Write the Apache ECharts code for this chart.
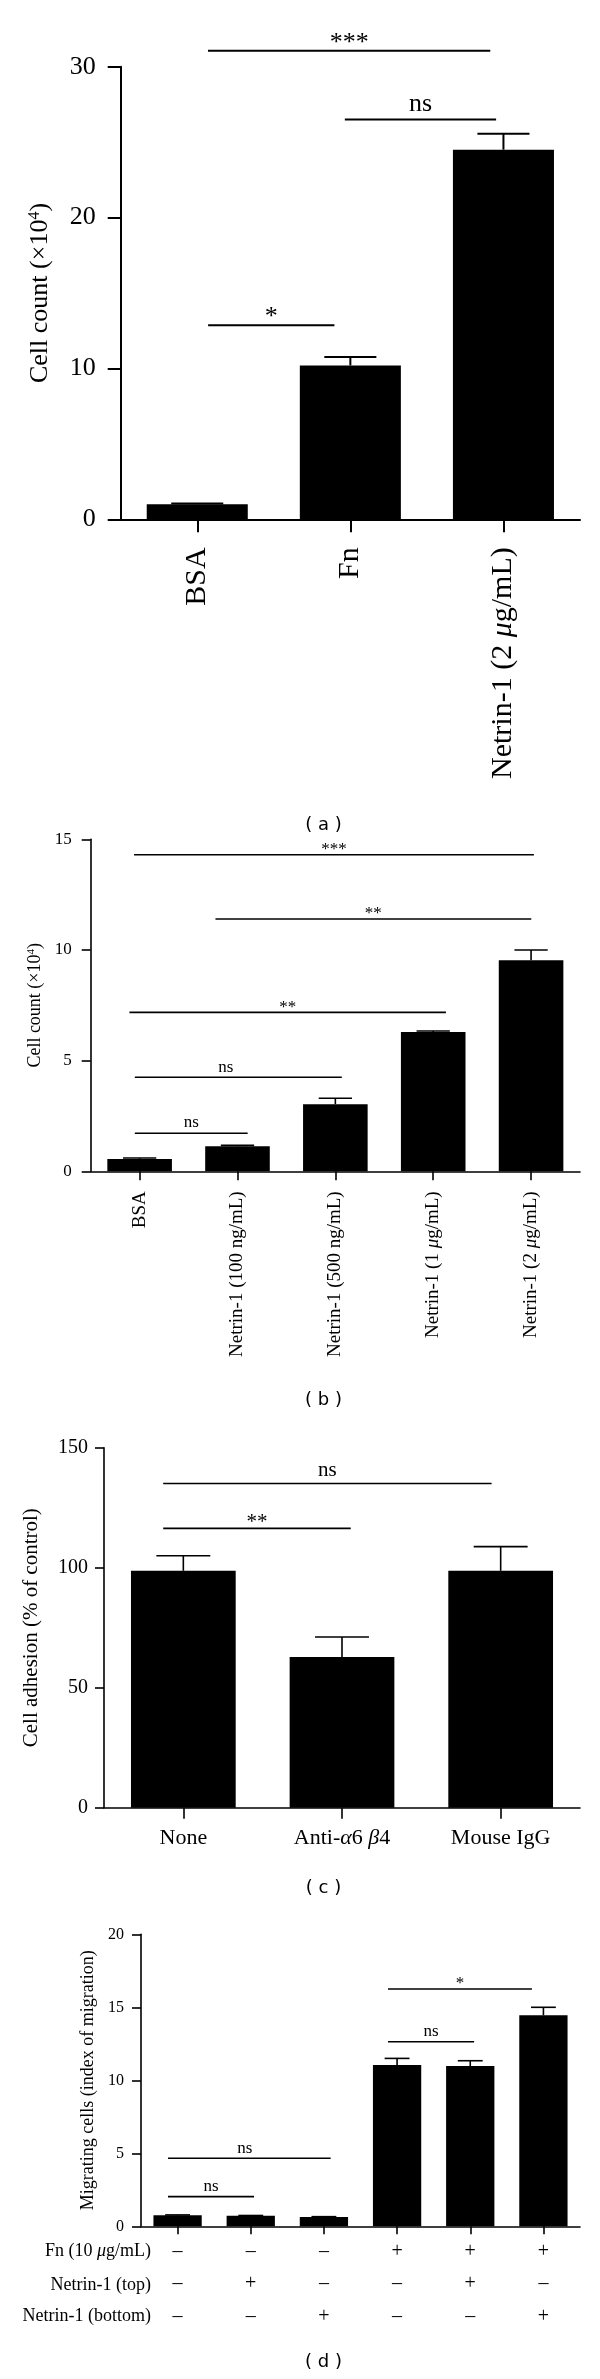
<!DOCTYPE html>
<html><head><meta charset="utf-8">
<script src="https://cdn.jsdelivr.net/npm/echarts@6/dist/echarts.min.js"></script>
<style>html,body{margin:0;padding:0;background:#fff}#c{width:600px;height:2379px}</style>
</head><body><div id="c"></div>
<script>
// ---------- Panel (a) ----------
const catsA = ['BSA', 'Fn', 'Netrin-1 (2 μg/mL)'];
const valsA = [1.0, 10.2, 24.5];
const errA = [0.05, 0.55, 1.05];
const ticksA = [0, 10, 20, 30];
// [from, to (category units), y, label]
const sigA = [[0.07, 1.914, 31.05, '***'], [0.964, 1.952, 26.5, 'ns'], [0.071, 0.896, 12.87, '*']];

// ---------- Panel (b) ----------
const catsB = ['BSA', 'Netrin-1 (100 ng/mL)', 'Netrin-1 (500 ng/mL)', 'Netrin-1 (1 μg/mL)', 'Netrin-1 (2 μg/mL)'];
const valsB = [0.56, 1.13, 3.03, 6.29, 9.54];
const errB = [0.04, 0.04, 0.27, 0.05, 0.46];
const ticksB = [0, 5, 10, 15];
const sigB = [[-0.057, 4.029, 14.3, '***'], [0.775, 4.002, 11.4, '**'], [-0.104, 3.13, 7.18, '**'],
              [-0.049, 2.066, 4.25, 'ns', 0.88], [-0.049, 1.104, 1.72, 'ns']];

// ---------- Panel (c) ----------
const catsC = ['None', 'Anti-α6 β4', 'Mouse IgG'];
const valsC = [98.7, 62.8, 98.7];
const errC = [6.3, 8.3, 10.1];
const ticksC = [0, 50, 100, 150];
const sigC = [[-0.127, 1.943, 135.1, 'ns'], [-0.127, 1.055, 116.4, '**']];

// ---------- Panel (d) ----------
const rowNamesD = ['Fn (10 μg/mL)', 'Netrin-1 (top)', 'Netrin-1 (bottom)'];
const fnD = ['–', '–', '–', '+', '+', '+'];
const topD = ['–', '+', '–', '–', '+', '–'];
const bottomD = ['–', '–', '+', '–', '–', '+'];
const valsD = [0.75, 0.72, 0.64, 11.05, 10.98, 14.45];
const errD = [0.03, 0.02, 0.02, 0.45, 0.36, 0.55];
const ticksD = [0, 5, 10, 15, 20];
const sigD = [[2.876, 4.843, 16.25, '*'], [2.876, 4.053, 12.64, 'ns'], [-0.131, 2.092, 4.66, 'ns', 0.92], [-0.131, 1.045, 2.03, 'ns']];

const SERIF = 'Liberation Serif';
const SANS = 'DejaVu Sans';

const greek = s => s.replace(/([μαβ])/g, '{i|$1}');

const panels = [
  { cats: catsA, vals: valsA, errs: errA, ticks: ticksA, sig: sigA,
    grid: { left: 120.7, top: 66.7, width: 459.3, height: 452.6 },
    lw: 2, tickLen: 13, tickFs: 26, yMargin: 25, sigFs: 26,
    yName: 'Cell count (×10{sup|4})', yNameFs: 26, yNameGap: 68,
    xLabel: { rotate: 90, fontSize: 30, margin: 28 }, xTickLen: 13 },
  { cats: catsB, vals: valsB, errs: errB, ticks: ticksB, sig: sigB,
    grid: { left: 90.7, top: 839.3, width: 489.3, height: 332 },
    lw: 1.6, tickLen: 9, tickFs: 17, yMargin: 19, sigFs: 17,
    yName: 'Cell count (×10{sup|4})', yNameFs: 18, yNameGap: 46,
    xLabel: { rotate: 90, fontSize: 19, margin: 20 }, xTickLen: 9 },
  { cats: catsC, vals: valsC, errs: errC, ticks: ticksC, sig: sigC,
    grid: { left: 104, top: 1447.7, width: 476, height: 360 },
    lw: 1.6, tickLen: 9, tickFs: 20, yMargin: 16, sigFs: 21,
    yName: 'Cell adhesion (% of control)', yNameFs: 21, yNameGap: 62,
    xLabel: { rotate: 0, fontSize: 22, margin: 20 }, xTickLen: 11 },
  { cats: fnD.map((_, i) => 'g' + i), vals: valsD, errs: errD, ticks: ticksD, sig: sigD,
    grid: { left: 141, top: 1934.3, width: 439, height: 292 },
    lw: 1.6, tickLen: 9, tickFs: 16, yMargin: 17, sigFs: 17,
    yName: 'Migrating cells (index of migration)', yNameFs: 18, yNameGap: 42,
    xLabel: { rotate: 0, fontSize: 20, margin: 9, lineHeight: 32.5,
              formatter: (v, i) => fnD[i] + '\n' + topD[i] + '\n' + bottomD[i] }, xTickLen: 8 }
];

const grids = [], xAxes = [], yAxes = [], series = [];
panels.forEach((p, k) => {
  grids.push(Object.assign({ containLabel: false }, p.grid));
  const axisLine = { show: true, onZero: false, lineStyle: { color: '#000', width: p.lw } };
  xAxes.push({
    type: 'category', gridIndex: k, data: p.cats, boundaryGap: true,
    axisLine: axisLine,
    axisTick: { show: true, alignWithLabel: true, length: p.xTickLen, lineStyle: { color: '#000', width: p.lw } },
    axisLabel: Object.assign({
      interval: 0, color: '#000', fontFamily: SERIF,
      formatter: v => greek(v),
      rich: { i: { fontStyle: 'italic', fontFamily: SERIF, fontSize: p.xLabel.fontSize, color: '#000' } }
    }, p.xLabel),
    splitLine: { show: false }
  });
  xAxes.push({ type: 'value', gridIndex: k, min: -0.5, max: p.cats.length - 0.5, show: false,
               axisLine: { onZero: false } });
  yAxes.push({
    type: 'value', gridIndex: k,
    min: p.ticks[0], max: p.ticks[p.ticks.length - 1], interval: p.ticks[1] - p.ticks[0],
    axisLine: axisLine,
    axisTick: { show: true, length: p.tickLen, lineStyle: { color: '#000', width: p.lw } },
    axisLabel: { color: '#000', fontFamily: SERIF, fontSize: p.tickFs, margin: p.yMargin },
    splitLine: { show: false },
    name: p.yName, nameLocation: 'middle', nameGap: p.yNameGap,
    nameTextStyle: {
      color: '#000', fontFamily: SERIF, fontSize: p.yNameFs, lineHeight: p.yNameFs,
      rich: { sup: { fontFamily: SERIF, fontSize: Math.round(p.yNameFs * 0.62), lineHeight: Math.round(p.yNameFs * 0.62), verticalAlign: 'top', color: '#000' } }
    }
  });
  series.push({
    type: 'bar', xAxisIndex: 2 * k, yAxisIndex: k, data: p.vals, barWidth: '66%',
    itemStyle: { color: '#000' }, silent: true, animation: false
  });
  series.push({
    type: 'custom', xAxisIndex: 2 * k, yAxisIndex: k, z: 5, animation: false, silent: true,
    data: p.vals.map((v, i) => [i, v, p.errs[i]]),
    renderItem(params, api) {
      const i = api.value(0), v = api.value(1), e = api.value(2);
      const base = api.coord([i, v]);
      const top = api.coord([i, v + e]);
      const half = api.size([1, 0])[0] * 0.17;
      const st = { stroke: '#000', lineWidth: p.lw };
      return { type: 'group', children: [
        { type: 'line', shape: { x1: base[0], y1: base[1], x2: top[0], y2: top[1] }, style: st },
        { type: 'line', shape: { x1: top[0] - half, y1: top[1], x2: top[0] + half, y2: top[1] }, style: st }
      ] };
    }
  });
  series.push({
    type: 'custom', xAxisIndex: 2 * k + 1, yAxisIndex: k, z: 6, animation: false, silent: true,
    encode: { x: [0, 1], y: 2 },
    data: p.sig.map(s => [s[0], s[1], s[2]]),
    renderItem(params, api) {
      const s = p.sig[params.dataIndex];
      const a = api.coord([s[0], s[2]]);
      const b = api.coord([s[1], s[2]]);
      const lx = s[4] !== undefined ? s[4] : (s[0] + s[1]) / 2;
      const c = api.coord([lx, s[2]]);
      const isStar = s[3].indexOf('*') >= 0;
      const off = p.sigFs * (isStar ? 0.3 : 0.6);
      return { type: 'group', children: [
        { type: 'line', shape: { x1: a[0], y1: a[1], x2: b[0], y2: b[1] }, style: { stroke: '#000', lineWidth: p.lw } },
        { type: 'text', style: { text: s[3], x: c[0], y: c[1] - off, fill: '#000', fontSize: p.sigFs, fontFamily: SERIF, align: 'center', verticalAlign: 'middle' } }
      ] };
    }
  });
});

const captions = [['( a )', 825], ['( b )', 1400], ['( c )', 1888], ['( d )', 2362]];
const graphic = captions.map(c => ({
  type: 'text', x: 323.5, y: c[1],
  style: { text: c[0], fill: '#000', fontSize: 18, fontFamily: SANS, align: 'center', verticalAlign: 'middle' }
}));
const rowY = [2251.7, 2285, 2316.7];
rowNamesD.forEach((t, i) => {
  graphic.push({
    type: 'text', x: 151, y: rowY[i],
    style: { text: greek(t), fill: '#000', fontSize: 18, fontFamily: SERIF, align: 'right', verticalAlign: 'middle',
             rich: { i: { fontStyle: 'italic', fontSize: 18, fontFamily: SERIF, fill: '#000' } } }
  });
});

const chart = echarts.init(document.getElementById('c'), null, { renderer: 'canvas' });
chart.setOption({ animation: false, grid: grids, xAxis: xAxes, yAxis: yAxes, series: series, graphic: graphic });
</script></body></html>
